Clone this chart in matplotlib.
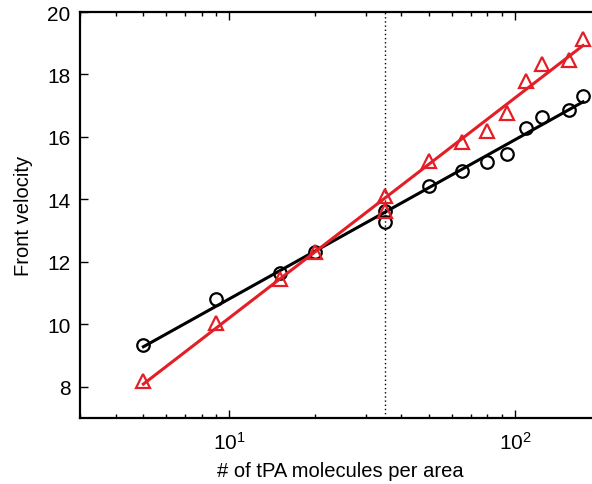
import matplotlib
matplotlib.use('Agg')
import matplotlib.pyplot as plt
import numpy as np

plt.rcParams['font.family'] = ['Liberation Sans', 'DejaVu Sans']

# tPA density (molecules per area) and measured front velocities
tpa_black = [5, 9, 15, 20, 35, 35, 50, 65, 80, 94, 109, 124, 155, 173]
vel_black = [9.34, 10.8, 11.63, 12.32, 13.63, 13.28, 14.43, 14.91, 15.2, 15.45, 16.3, 16.65, 16.87, 17.3]

tpa_red = [5, 9, 15, 20, 35, 35, 50, 65, 80, 94, 109, 124, 155, 173]
vel_red = [8.17, 10.05, 11.45, 12.3, 14.1, 13.62, 15.23, 15.84, 16.2, 16.78, 17.8, 18.32, 18.47, 19.12]

threshold = 35
red = '#e41e26'

fig = plt.figure(figsize=(5.92, 4.85), dpi=100)
ax = fig.add_axes([80 / 592, 66 / 485, 521 / 592, 406 / 485])

ax.axvline(threshold, color='black', linestyle=(0, (1, 2)), linewidth=1.0)

# straight fits in log(x)
for xs, ys, c, m, ms in [(tpa_black, vel_black, 'black', 'o', 9),
                         (tpa_red, vel_red, red, '^', 10)]:
    lx = np.log10(xs)
    p = np.polyfit(lx, ys, 1)
    xf = np.array([min(xs), max(xs)])
    ax.plot(xf, np.polyval(p, np.log10(xf)), color=c, linewidth=2.2)
    ax.plot(xs, ys, linestyle='none', marker=m, markersize=ms,
            markerfacecolor='none', markeredgecolor=c, markeredgewidth=1.6)

ax.set_xscale('log')
ax.set_xlim(3, 200)
ax.set_ylim(7, 20)
ax.set_yticks([8, 10, 12, 14, 16, 18, 20])
ax.tick_params(which='both', direction='in', top=True, right=True, labelsize=15)
ax.tick_params(which='major', length=6, width=1)
ax.tick_params(which='minor', length=3, width=1)
ax.tick_params(axis='x', pad=9)
ax.tick_params(axis='y', pad=7)
for s in ax.spines.values():
    s.set_linewidth(1.6)

ax.set_xlabel('# of tPA molecules per area', fontsize=14.5, labelpad=6)
ax.set_ylabel('Front velocity', fontsize=14.5, labelpad=10)

fig.savefig('out.png', dpi=100)
